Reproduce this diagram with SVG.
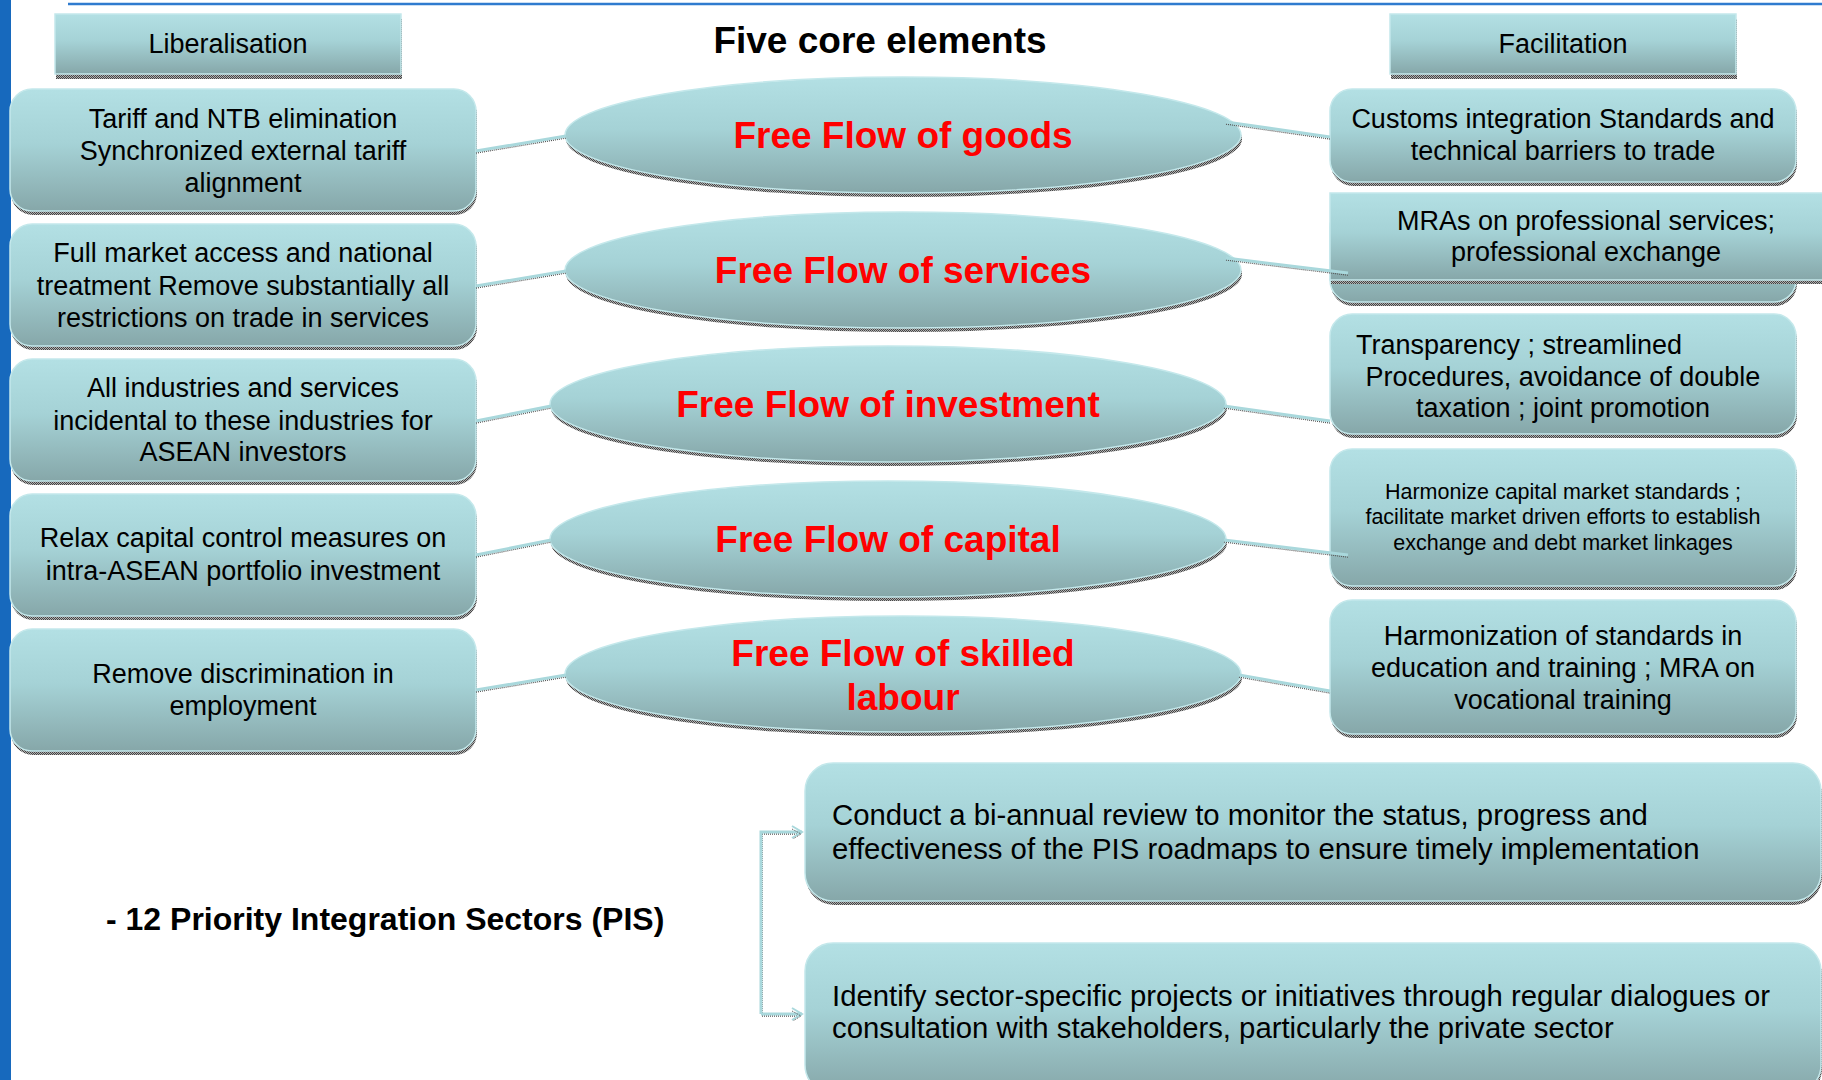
<svg xmlns="http://www.w3.org/2000/svg" width="1822" height="1080" viewBox="0 0 1822 1080">
<style>
.box{fill:url(#g);stroke:#c4e8eb;stroke-width:1.5}
.sh{fill:url(#dots)}
.t{font-family:"Liberation Sans",Arial,sans-serif;font-size:27px;fill:#000;text-anchor:middle}
.ts{font-family:"Liberation Sans",Arial,sans-serif;font-size:21.5px;fill:#000;text-anchor:middle}
.tb{font-family:"Liberation Sans",Arial,sans-serif;font-size:29.3px;fill:#000}
.el{font-family:"Liberation Sans",Arial,sans-serif;font-size:37px;font-weight:bold;fill:#ff0000;text-anchor:middle}
.title{font-family:"Liberation Sans",Arial,sans-serif;font-size:37px;font-weight:bold;fill:#000;text-anchor:middle}
.c{stroke:#a9d8dc;stroke-width:3;fill:none}
.cs{stroke:#555;stroke-width:1.5;stroke-dasharray:1 1;fill:none}
</style>
<defs>
<linearGradient id="g" x1="0" y1="0" x2="0" y2="1">
<stop offset="0" stop-color="#b3e0e4"/>
<stop offset="0.45" stop-color="#a5d2d6"/>
<stop offset="1" stop-color="#86a7a9"/>
</linearGradient>
<pattern id="dots" width="2" height="2" patternUnits="userSpaceOnUse">
<rect width="2" height="2" fill="#b0b0b0"/>
<rect width="1" height="1" fill="#444"/>
<rect x="1" y="1" width="1" height="1" fill="#444"/>
</pattern>
<marker id="arr" viewBox="0 0 14 14" refX="12" refY="7" markerWidth="14" markerHeight="14" markerUnits="userSpaceOnUse" orient="auto">
<path d="M2,1 L12,7 L2,13" fill="none" stroke="#a9d8dc" stroke-width="2"/>
<path d="M2,4 L11,9 L3,14" fill="none" stroke="#555" stroke-width="1" stroke-dasharray="1 1"/>
</marker>
</defs>
<rect width="1822" height="1080" fill="#fff"/>
<rect x="0" y="0" width="11" height="1080" fill="#1769bd"/>
<line x1="68" y1="4" x2="1822" y2="4" stroke="#2f7bcf" stroke-width="2.5"/>

<text class="title" x="880" y="53">Five core elements</text>

<g id="hdr-liberalisation">
<rect class="sh" x="56" y="19" width="346" height="60"/>
<rect class="box" x="55" y="14" width="346" height="60"/>
<text class="t" x="228" y="53">Liberalisation</text>
</g>
<g id="hdr-facilitation">
<rect class="sh" x="1391" y="19" width="346" height="60"/>
<rect class="box" x="1390" y="14" width="346" height="60"/>
<text class="t" x="1563" y="53">Facilitation</text>
</g>

<g id="lib-goods">
<rect class="sh" x="11" y="93" width="466" height="122" rx="22"/>
<rect class="box" x="10" y="89" width="466" height="122" rx="22"/>
<text class="t" x="243" y="128">Tariff and NTB elimination</text>
<text class="t" x="243" y="160">Synchronized external tariff</text>
<text class="t" x="243" y="192">alignment</text>
</g>
<g id="lib-services">
<rect class="sh" x="11" y="228" width="466" height="122" rx="22"/>
<rect class="box" x="10" y="224" width="466" height="122" rx="22"/>
<text class="t" x="243" y="262">Full market access and national</text>
<text class="t" x="243" y="295">treatment Remove substantially all</text>
<text class="t" x="243" y="327">restrictions on trade in services</text>
</g>
<g id="lib-investment">
<rect class="sh" x="11" y="363" width="466" height="122" rx="22"/>
<rect class="box" x="10" y="359" width="466" height="122" rx="22"/>
<text class="t" x="243" y="397">All industries and services</text>
<text class="t" x="243" y="430">incidental to these industries for</text>
<text class="t" x="243" y="461">ASEAN investors</text>
</g>
<g id="lib-capital">
<rect class="sh" x="11" y="498" width="466" height="122" rx="22"/>
<rect class="box" x="10" y="494" width="466" height="122" rx="22"/>
<text class="t" x="243" y="547">Relax capital control measures on</text>
<text class="t" x="243" y="580">intra-ASEAN portfolio investment</text>
</g>
<g id="lib-labour">
<rect class="sh" x="11" y="633" width="466" height="122" rx="22"/>
<rect class="box" x="10" y="629" width="466" height="122" rx="22"/>
<text class="t" x="243" y="683">Remove discrimination in</text>
<text class="t" x="243" y="715">employment</text>
</g>

<g id="el-goods">
<ellipse class="sh" cx="904" cy="139" rx="338" ry="58"/>
<ellipse class="box" cx="903" cy="135" rx="338" ry="58"/>
<text class="el" x="903" y="148">Free Flow of goods</text>
</g>
<g id="el-services">
<ellipse class="sh" cx="904" cy="274" rx="338" ry="58"/>
<ellipse class="box" cx="903" cy="270" rx="338" ry="58"/>
<text class="el" x="903" y="283">Free Flow of services</text>
</g>
<g id="el-investment">
<ellipse class="sh" cx="889" cy="408" rx="338" ry="58"/>
<ellipse class="box" cx="888" cy="404" rx="338" ry="58"/>
<text class="el" x="888" y="417">Free Flow of investment</text>
</g>
<g id="el-capital">
<ellipse class="sh" cx="889" cy="543" rx="338" ry="58"/>
<ellipse class="box" cx="888" cy="539" rx="338" ry="58"/>
<text class="el" x="888" y="552">Free Flow of capital</text>
</g>
<g id="el-labour">
<ellipse class="sh" cx="904" cy="678" rx="338" ry="58"/>
<ellipse class="box" cx="903" cy="674" rx="338" ry="58"/>
<text class="el" x="903" y="666">Free Flow of skilled</text>
<text class="el" x="903" y="710">labour</text>
</g>

<g id="fac-goods">
<rect class="sh" x="1331" y="93" width="466" height="93" rx="22"/>
<rect class="box" x="1330" y="89" width="466" height="93" rx="22"/>
<text class="t" x="1563" y="128">Customs integration Standards and</text>
<text class="t" x="1563" y="160">technical barriers to trade</text>
</g>
<g id="fac-services">
<rect class="sh" x="1331" y="209" width="466" height="97" rx="22"/>
<rect class="box" x="1330" y="205" width="466" height="97" rx="22"/>
<rect class="sh" x="1331" y="197" width="500" height="87"/>
<rect class="box" x="1330" y="193" width="500" height="87"/>
<text class="t" x="1586" y="230">MRAs on professional services;</text>
<text class="t" x="1586" y="261">professional exchange</text>
</g>
<g id="fac-investment">
<rect class="sh" x="1331" y="318" width="466" height="120" rx="22"/>
<rect class="box" x="1330" y="314" width="466" height="120" rx="22"/>
<text class="t" x="1356" y="354" style="text-anchor:start">Transparency ; streamlined</text>
<text class="t" x="1563" y="386">Procedures, avoidance of double</text>
<text class="t" x="1563" y="417">taxation ; joint promotion</text>
</g>
<g id="fac-capital">
<rect class="sh" x="1331" y="453" width="466" height="137" rx="22"/>
<rect class="box" x="1330" y="449" width="466" height="137" rx="22"/>
<text class="ts" x="1563" y="499">Harmonize capital market standards ;</text>
<text class="ts" x="1563" y="524">facilitate market driven efforts to establish</text>
<text class="ts" x="1563" y="550">exchange and debt market linkages</text>
</g>
<g id="fac-labour">
<rect class="sh" x="1331" y="604" width="466" height="134" rx="22"/>
<rect class="box" x="1330" y="600" width="466" height="134" rx="22"/>
<text class="t" x="1563" y="645">Harmonization of standards in</text>
<text class="t" x="1563" y="677">education and training ; MRA on</text>
<text class="t" x="1563" y="709">vocational training</text>
</g>

<g id="pis">
<text class="tb" x="106" y="930" style="font-weight:bold;font-size:32px">- 12 Priority Integration Sectors (PIS)</text>
</g>
<g id="pis-review">
<rect class="sh" x="806" y="767" width="1016" height="138" rx="28"/>
<rect class="box" x="805" y="763" width="1016" height="138" rx="28"/>
<text class="tb" x="832" y="825">Conduct a bi-annual review to monitor the status, progress and</text>
<text class="tb" x="832" y="859">effectiveness of the PIS roadmaps to ensure timely implementation</text>
</g>
<g id="pis-identify">
<rect class="sh" x="806" y="947" width="1016" height="150" rx="28"/>
<rect class="box" x="805" y="943" width="1016" height="150" rx="28"/>
<text class="tb" x="832" y="1006">Identify sector-specific projects or initiatives through regular dialogues or</text>
<text class="tb" x="832" y="1038">consultation with stakeholders, particularly the private sector</text>
</g>

<g id="connectors">
<path class="cs" d="M476,153 L566,138"/><path class="c" d="M476,151 L566,136"/>
<path class="cs" d="M1226,124 L1330,139"/><path class="c" d="M1226,122 L1330,137"/>
<path class="cs" d="M476,288 L566,273"/><path class="c" d="M476,286 L566,271"/>
<path class="cs" d="M1226,260 L1348,275"/><path class="c" d="M1226,258 L1348,273"/>
<path class="cs" d="M476,423 L551,408"/><path class="c" d="M476,421 L551,406"/>
<path class="cs" d="M1224,408 L1330,423"/><path class="c" d="M1224,406 L1330,421"/>
<path class="cs" d="M476,557 L551,542"/><path class="c" d="M476,555 L551,540"/>
<path class="cs" d="M1224,542 L1348,557"/><path class="c" d="M1224,540 L1348,555"/>
<path class="cs" d="M476,692 L566,677"/><path class="c" d="M476,690 L566,675"/>
<path class="cs" d="M1239,677 L1330,693"/><path class="c" d="M1239,675 L1330,691"/>
<path class="cs" d="M762,834 L762,1016 L798,1016 M762,834 L798,834"/>
<path class="c" d="M761,1014 L761,832 L802,832" marker-end="url(#arr)"/>
<path class="c" d="M761,1014 L802,1014" marker-end="url(#arr)"/>
</g>
</svg>
